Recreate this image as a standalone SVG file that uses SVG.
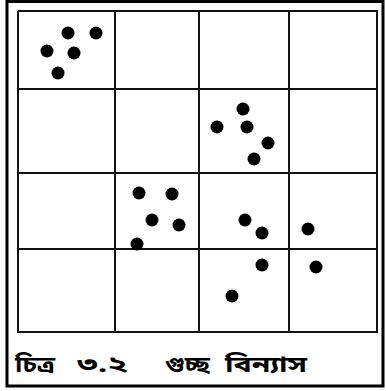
<svg xmlns="http://www.w3.org/2000/svg" width="386" height="391" viewBox="0 0 386 391">
<style>
.frame{fill:none;stroke:#000;stroke-width:3}
.grid line{stroke:#111;stroke-width:2}
.dot{fill:#000}
.cap{font-family:"Noto Sans Bengali","Noto Serif Bengali","Lohit Bengali","Noto Sans",sans-serif;font-size:22px;font-weight:bold;fill:#000}
</style>
<rect x="0" y="0" width="386" height="391" fill="#fff"/>
<rect class="frame" x="7" y="1.5" width="376" height="384.5"/>
<g id="grid" class="grid">
<line x1="18" y1="11" x2="378" y2="11"/>
<line x1="18" y1="89" x2="378" y2="89"/>
<line x1="18" y1="173" x2="378" y2="173"/>
<line x1="18" y1="249" x2="378" y2="249"/>
<line x1="17" y1="332" x2="378" y2="332"/>
<line x1="18" y1="11" x2="18" y2="332"/>
<line x1="115" y1="11" x2="115" y2="332"/>
<line x1="199" y1="11" x2="199" y2="332"/>
<line x1="289" y1="11" x2="289" y2="332"/>
<line x1="377" y1="11" x2="377" y2="332"/>
</g>
<g id="cluster1">
<circle class="dot" cx="68" cy="33" r="6.5"/>
<circle class="dot" cx="96" cy="33" r="6.5"/>
<circle class="dot" cx="47" cy="51" r="6.5"/>
<circle class="dot" cx="74" cy="53" r="6.5"/>
<circle class="dot" cx="58" cy="73" r="6.5"/>
</g>
<g id="cluster2">
<circle class="dot" cx="243" cy="109" r="6.5"/>
<circle class="dot" cx="217" cy="127" r="6.5"/>
<circle class="dot" cx="247" cy="127" r="6.5"/>
<circle class="dot" cx="268" cy="143" r="6.5"/>
<circle class="dot" cx="254" cy="159" r="6.5"/>
</g>
<g id="cluster3">
<circle class="dot" cx="139" cy="193" r="6.5"/>
<circle class="dot" cx="172" cy="194" r="6.5"/>
<circle class="dot" cx="152" cy="220" r="6.5"/>
<circle class="dot" cx="179" cy="225" r="6.5"/>
<circle class="dot" cx="137" cy="244" r="6.5"/>
</g>
<g id="cluster4">
<circle class="dot" cx="245" cy="220" r="6.5"/>
<circle class="dot" cx="262" cy="233" r="6.5"/>
<circle class="dot" cx="308" cy="229" r="6.5"/>
<circle class="dot" cx="262" cy="265" r="6.5"/>
<circle class="dot" cx="316" cy="267" r="6.5"/>
<circle class="dot" cx="232" cy="296" r="6.5"/>
</g>
<g id="caption">
<text class="cap" x="15" y="372" textLength="40" lengthAdjust="spacingAndGlyphs">চিত্র</text>
<text class="cap" x="77" y="372" textLength="51" lengthAdjust="spacingAndGlyphs">৩.২</text>
<text class="cap" x="165" y="372" textLength="45" lengthAdjust="spacingAndGlyphs">গুচ্ছ</text>
<text class="cap" x="225" y="372" textLength="82" lengthAdjust="spacingAndGlyphs">বিন্যাস</text>
</g>
</svg>
